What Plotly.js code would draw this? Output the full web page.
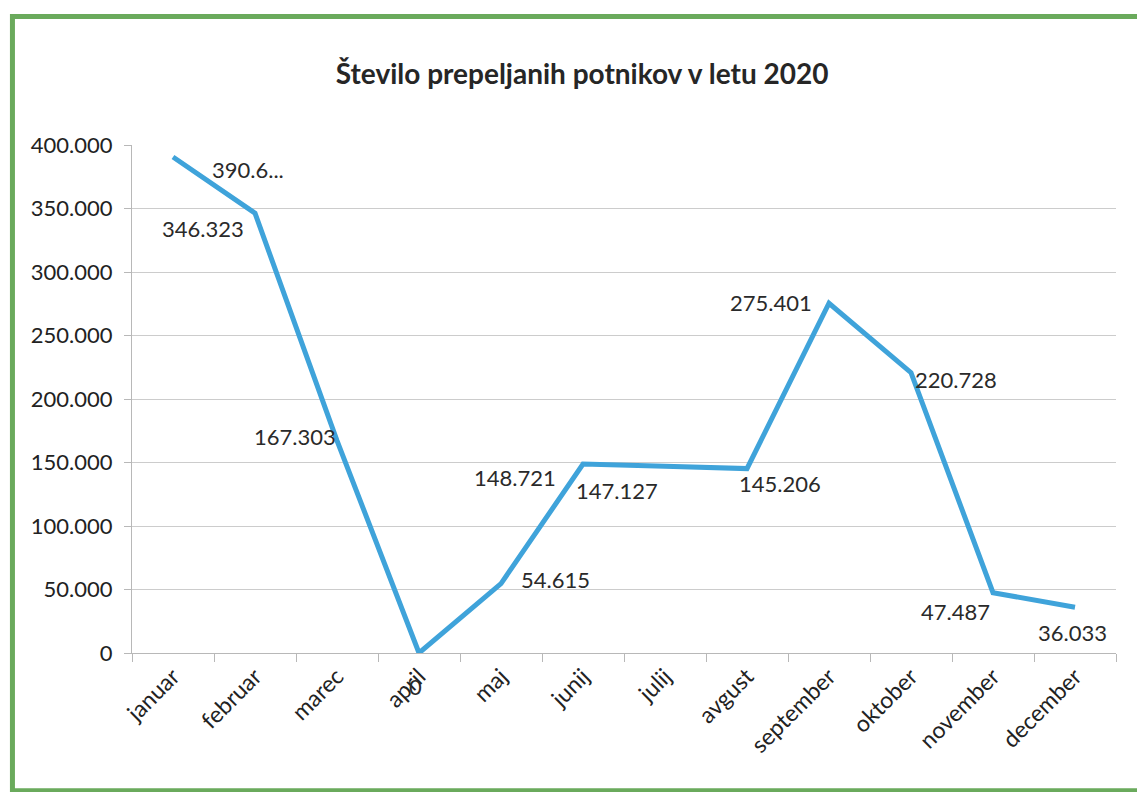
<!DOCTYPE html>
<html>
<head>
<meta charset="utf-8">
<script src="https://cdn.plot.ly/plotly-3.0.1.min.js"></script>
<style>html,body{margin:0;padding:0;background:#fff;}#chart{width:1137px;height:792px;}</style>
</head>
<body>
<div id="chart"></div>
<script>
var months = ["januar","februar","marec","april","maj","junij","julij","avgust","september","oktober","november","december"];
var passengers = [390600, 346323, 167303, 0, 54615, 148721, 147127, 145206, 275401, 220728, 47487, 36033];
var labelTexts = ["390.6...","346.323","167.303","0","54.615","148.721","147.127","145.206","275.401","220.728","47.487","36.033"];
var yTicks = [0, 50000, 100000, 150000, 200000, 250000, 300000, 350000, 400000];

// label offsets (pixels) relative to each point
var offX = [75, -52, -42, -4, 54, -68, -48, 33, -58, 45, -38, -3];
var offY = [13, 15, -4, 33, -4, 13, 24, 15, -1, 7, 19, 25];

var fontFam = "Lato, 'Open Sans', sans-serif";
var annotations = months.map(function(m, i){
  return {
    x: m, y: passengers[i], xref: 'x', yref: 'y',
    text: labelTexts[i], showarrow: true, arrowcolor: 'rgba(0,0,0,0)', arrowwidth: 0.1,
    ax: offX[i], ay: offY[i],
    font: {family: fontFam, size: 22, color: '#2a2a2a'}
  };
});

var trace = {
  x: months, y: passengers, type: 'scatter', mode: 'lines',
  line: {color: '#3fa3da', width: 5},
  hoverinfo: 'x+y'
};

var layout = {
  width: 1137, height: 792,
  margin: {l: 132, r: 21, t: 145, b: 139},
  paper_bgcolor: '#ffffff', plot_bgcolor: '#ffffff',
  separators: ',.',
  showlegend: false,
  title: {text: 'Število prepeljanih potnikov v letu 2020', x: 0.512, xanchor: 'center', y: 0.906, yanchor: 'middle',
          font: {family: fontFam, size: 28, color: '#262626', weight: 'bold'}},
  xaxis: {
    type: 'category', tickangle: -45, tickson: 'boundaries',
    ticks: 'outside', ticklen: 8, tickcolor: '#b8b8b8',
    showline: true, linecolor: '#b8b8b8', linewidth: 1,
    showgrid: false, zeroline: false,
    range: [-0.5, 11.5],
    tickfont: {family: fontFam, size: 23, color: '#222'}
  },
  yaxis: {
    range: [0, 400000], tickvals: yTicks, tickformat: ',d',
    ticks: 'outside', ticklen: 7, tickcolor: '#b8b8b8',
    showline: true, linecolor: '#b8b8b8', linewidth: 1,
    showgrid: true, gridcolor: '#cccccc', gridwidth: 1,
    zeroline: false, ticklabelstandoff: 7,
    tickfont: {family: fontFam, size: 22, color: '#222'}
  },
  annotations: annotations,
  shapes: [{
    type: 'rect', xref: 'paper', yref: 'paper',
    x0: -0.1215, x1: 1.1, y0: -0.271, y1: 1.253,
    line: {color: '#6aaa5c', width: 5}, fillcolor: 'rgba(0,0,0,0)', layer: 'below'
  }]
};

Plotly.newPlot('chart', [trace], layout, {displayModeBar: false, staticPlot: true});
</script>
</body>
</html>
